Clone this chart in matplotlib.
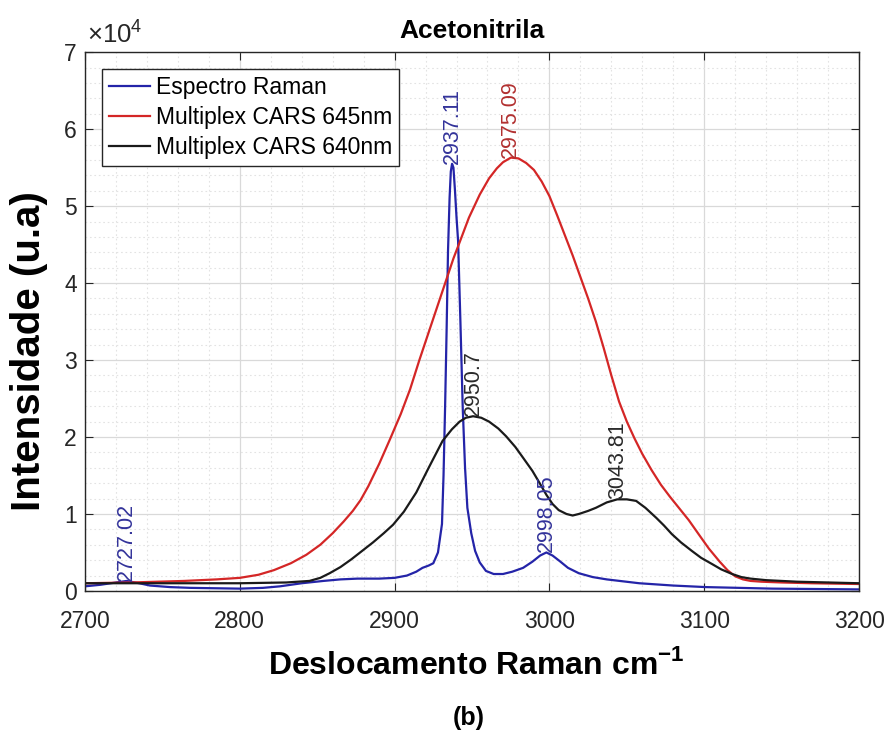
import matplotlib
matplotlib.use("Agg")
import matplotlib.pyplot as plt
from matplotlib.ticker import MultipleLocator, AutoMinorLocator

plt.rcParams["font.family"] = ["Liberation Sans", "DejaVu Sans"]
plt.rcParams["mathtext.fontset"] = "custom"
plt.rcParams["mathtext.rm"] = "Liberation Sans"
plt.rcParams["mathtext.bf"] = "Liberation Sans:bold"

# intensities are in units of 1e4
raman_x = [2700, 2710, 2720, 2727.02, 2735, 2742, 2755, 2768, 2800, 2815, 2826, 2840, 2854, 2865,
           2876, 2890, 2900, 2908, 2914, 2918, 2922, 2925, 2928, 2930.6, 2931.6, 2932.6, 2933.6,
           2934.5, 2935.5, 2936.3, 2937.11, 2938, 2939, 2940, 2941, 2942.5, 2944, 2945.5, 2947,
           2949.5, 2952, 2955, 2959, 2964, 2970, 2976, 2983, 2989, 2994, 2998.05, 3002, 3006.5,
           3012, 3019, 3028, 3037, 3058, 3080, 3101, 3144, 3200]
raman_y = [0.06, 0.08, 0.11, 0.13, 0.1, 0.07, 0.05, 0.04, 0.03, 0.04, 0.06, 0.1, 0.13, 0.15,
           0.16, 0.16, 0.17, 0.2, 0.25, 0.3, 0.33, 0.36, 0.5, 0.87, 1.5, 2.38, 3.4,
           4.42, 5.1, 5.45, 5.55, 5.5, 5.2, 4.85, 4.55, 3.5, 2.38, 1.6, 1.08,
           0.75, 0.52, 0.37, 0.26, 0.22, 0.22, 0.25, 0.3, 0.38, 0.46, 0.5, 0.46, 0.39,
           0.3, 0.23, 0.18, 0.15, 0.1, 0.07, 0.05, 0.03, 0.02]

cars645_x = [2700, 2730, 2764, 2785, 2800, 2812, 2822, 2833, 2843, 2852, 2860, 2867, 2873, 2878,
             2883, 2890, 2897, 2904, 2910, 2916, 2923, 2929, 2934, 2938, 2942, 2948, 2955, 2961,
             2966, 2970, 2975.09, 2980, 2985, 2990, 2995, 3000, 3005, 3010, 3015, 3020, 3025,
             3030, 3035, 3040, 3045, 3050, 3055, 3060, 3066, 3072, 3078, 3084, 3090, 3097, 3103,
             3110, 3115, 3120, 3125, 3130, 3137, 3150, 3169, 3200]
cars645_y = [0.1, 0.11, 0.13, 0.15, 0.17, 0.21, 0.27, 0.36, 0.47, 0.6, 0.75, 0.9, 1.04, 1.18,
             1.36, 1.65, 1.97, 2.3, 2.62, 3.0, 3.42, 3.78, 4.08, 4.32, 4.53, 4.85, 5.15, 5.36,
             5.49, 5.57, 5.63, 5.62, 5.56, 5.47, 5.32, 5.13, 4.88, 4.62, 4.36, 4.08, 3.8,
             3.5, 3.16, 2.8, 2.46, 2.2, 1.98, 1.78, 1.57, 1.38, 1.22, 1.07, 0.92, 0.72, 0.55,
             0.38, 0.27, 0.19, 0.15, 0.13, 0.12, 0.11, 0.1, 0.09]

cars640_x = [2700, 2760, 2800, 2830, 2845, 2852, 2858, 2865, 2872, 2879, 2886, 2893, 2899, 2906,
             2914, 2922, 2931, 2937, 2942, 2946, 2950.7, 2956, 2961, 2967, 2972, 2978, 2983,
             2989, 2994, 2998, 3002, 3006, 3011, 3015, 3019, 3025, 3030, 3037, 3043.81, 3050,
             3056, 3062, 3069, 3074, 3079, 3085, 3092, 3098, 3105, 3111, 3118, 3124, 3130,
             3140, 3160, 3200]
cars640_y = [0.1, 0.1, 0.1, 0.11, 0.13, 0.17, 0.23, 0.31, 0.41, 0.52, 0.63, 0.75, 0.86, 1.03,
             1.28, 1.6, 1.95, 2.1, 2.2, 2.25, 2.27, 2.25, 2.2, 2.11, 2.01, 1.87, 1.73,
             1.56, 1.39, 1.25, 1.13, 1.05, 1.0, 0.98, 1.0, 1.04, 1.08, 1.15, 1.19, 1.19,
             1.17, 1.08, 0.95, 0.85, 0.74, 0.63, 0.52, 0.43, 0.35, 0.28, 0.22, 0.18, 0.16,
             0.14, 0.12, 0.1]

raman_peaks = [2727.02, 2937.11, 2998.05]
cars645_peaks = [2975.09]
cars640_peaks = [2950.7, 3043.81]

BLUE = "#2424a8"
RED = "#d42626"
BLACK = "#1a1a1a"


def annotate_peaks(ax, xs, ys, peaks, color):
    for p in peaks:
        y = ys[xs.index(p)]
        ax.text(p, y, f"{p:g}", rotation=90, ha="center", va="bottom",
                fontsize=15.5, color=color)


fig = plt.figure(figsize=(8.88, 7.35), dpi=100)
ax = fig.add_axes([0.0957, 0.196, 0.8717, 0.733])

ax.plot(raman_x, raman_y, color=BLUE, lw=1.6, label="Espectro Raman")
ax.plot(cars645_x, cars645_y, color=RED, lw=1.6, label="Multiplex CARS 645nm")
ax.plot(cars640_x, cars640_y, color=BLACK, lw=1.6, label="Multiplex CARS 640nm")

annotate_peaks(ax, raman_x, raman_y, raman_peaks, "#33339a")
annotate_peaks(ax, cars645_x, cars645_y, cars645_peaks, "#b23030")
annotate_peaks(ax, cars640_x, cars640_y, cars640_peaks, "#2a2a2a")

ax.set_xlim(2700, 3200)
ax.set_ylim(0, 7)
ax.xaxis.set_major_locator(MultipleLocator(100))
ax.yaxis.set_major_locator(MultipleLocator(1))
ax.xaxis.set_minor_locator(AutoMinorLocator(5))
ax.yaxis.set_minor_locator(AutoMinorLocator(5))
ax.grid(which="major", color="#d9d9d9", lw=0.9)
ax.grid(which="minor", color="#e3e3e3", lw=0.8, ls=(0, (1.5, 2.5)))
ax.set_axisbelow(True)

ax.tick_params(which="both", direction="in", top=True, right=True, colors="#262626")
ax.tick_params(which="minor", length=0)
ax.tick_params(which="major", length=6, labelsize=16.5)
ax.tick_params(axis="x", pad=14)
ax.tick_params(axis="y", pad=6)
for s in ax.spines.values():
    s.set_color("#262626")
    s.set_linewidth(1.0)

ax.text(0.003, 1.008, r"$\times10^{4}$", transform=ax.transAxes, fontsize=18.5,
        color="#262626", ha="left", va="bottom")

ax.set_title("Acetonitrila", fontsize=19, fontweight="bold", pad=10)
ax.set_ylabel("Intensidade (u.a)", fontsize=29, fontweight="bold")
ax.yaxis.set_label_coords(-0.048, 0.445)
ax.set_xlabel(r"Deslocamento Raman cm$^{\mathbf{-1}}$", fontsize=23, fontweight="bold", va="top")
ax.xaxis.set_label_coords(0.505, -0.108)

leg = ax.legend(loc="upper left", bbox_to_anchor=(0.022, 0.968), fontsize=16.5,
                handlelength=1.8, handletextpad=0.25, labelspacing=0.3,
                borderpad=0.3, borderaxespad=0, fancybox=False, framealpha=1)
leg.get_frame().set_edgecolor("#262626")
leg.get_frame().set_linewidth(1.0)

fig.text(0.528, 1 - 718 / 735, "(b)", fontsize=18, fontweight="bold", ha="center", va="center")

fig.savefig("out.png", dpi=100)
